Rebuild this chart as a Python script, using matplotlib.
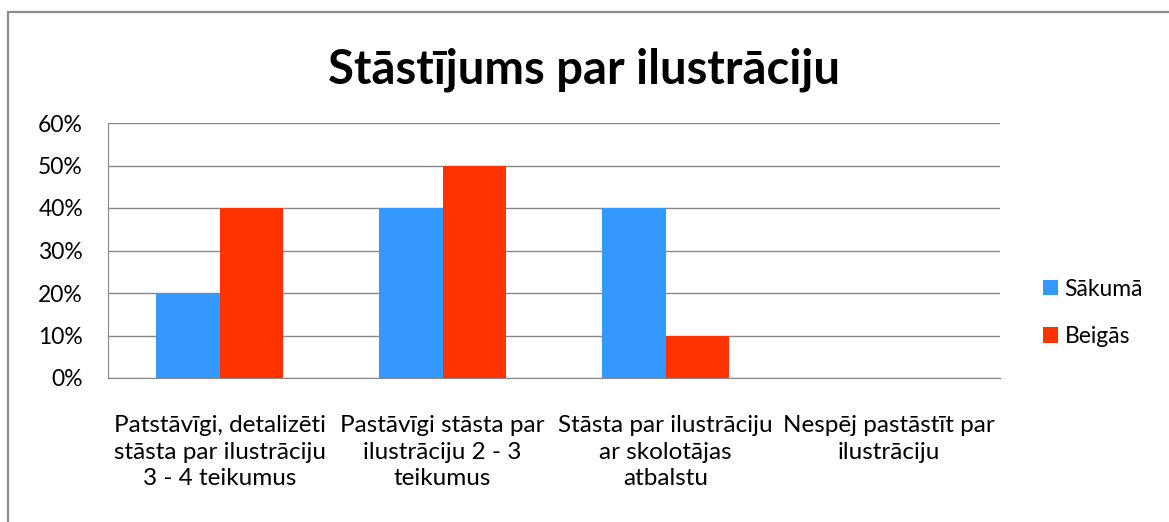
import numpy as np
import matplotlib.pyplot as plt
from matplotlib.patches import Rectangle

categories = [
    "Patstāvīgi, detalizēti\nstāsta par ilustrāciju\n3 - 4 teikumus",
    "Pastāvīgi stāsta par\nilustrāciju 2 - 3\nteikumus",
    "Stāsta par ilustrāciju\nar skolotājas\natbalstu",
    "Nespēj pastāstīt par\nilustrāciju",
]
sakuma = [0.20, 0.40, 0.40, 0.0]
beigas = [0.40, 0.50, 0.10, 0.0]
yticks = [0, 0.1, 0.2, 0.3, 0.4, 0.5, 0.6]
ytick_labels = ["0%", "10%", "20%", "30%", "40%", "50%", "60%"]

plt.rcParams['font.family'] = ['Lato', 'DejaVu Sans']

W, H = 1169, 522
fig = plt.figure(figsize=(W / 100, H / 100), dpi=100)

# outer chart frame (only top and left edges fall inside the image)
top = 1 - 11.5 / H
fig.patches.append(Rectangle((8 / W, -0.1), 1.2, top + 0.1, transform=fig.transFigure,
                             fill=False, edgecolor='#8c8c8c', linewidth=1.6))

ax = fig.add_axes([108 / W, 1 - 378 / H, (1000 - 108) / W, (378 - 123) / H])

x = np.arange(len(categories))
bw = 0.283
ax.bar(x - bw / 2, sakuma, bw, color='#3399FF', label='Sākumā', zorder=3)
ax.bar(x + bw / 2, beigas, bw, color='#FF3300', label='Beigās', zorder=3)

ax.set_xlim(-0.5, len(categories) - 0.5)
ax.set_ylim(0, 0.6)
ax.set_yticks(yticks)
ax.set_yticklabels(ytick_labels, fontsize=16.5)
ax.set_xticks(x)
ax.set_xticklabels(categories, fontsize=17.5, linespacing=1.3)
ax.tick_params(axis='both', length=0, colors='black')
ax.tick_params(axis='y', pad=18)
ax.tick_params(axis='x', pad=27)
ax.grid(axis='y', color='#888888', linewidth=1, zorder=0)

for s in ['top', 'right']:
    ax.spines[s].set_visible(False)
ax.spines['left'].set_color('#888888')
ax.spines['bottom'].set_color('#888888')

fig.text(584 / W, 1 - 70 / H, "Stāstījums par ilustrāciju", ha='center', va='center',
         fontsize=34, fontweight='bold')

leg = ax.legend(loc='center left', bbox_to_anchor=(1022 / W, 1 - 313 / H),
                bbox_transform=fig.transFigure, frameon=False, fontsize=16.5,
                handlelength=0.65, handleheight=0.65, handletextpad=0.3, labelspacing=1.15)

fig.savefig("out.png", dpi=100)
